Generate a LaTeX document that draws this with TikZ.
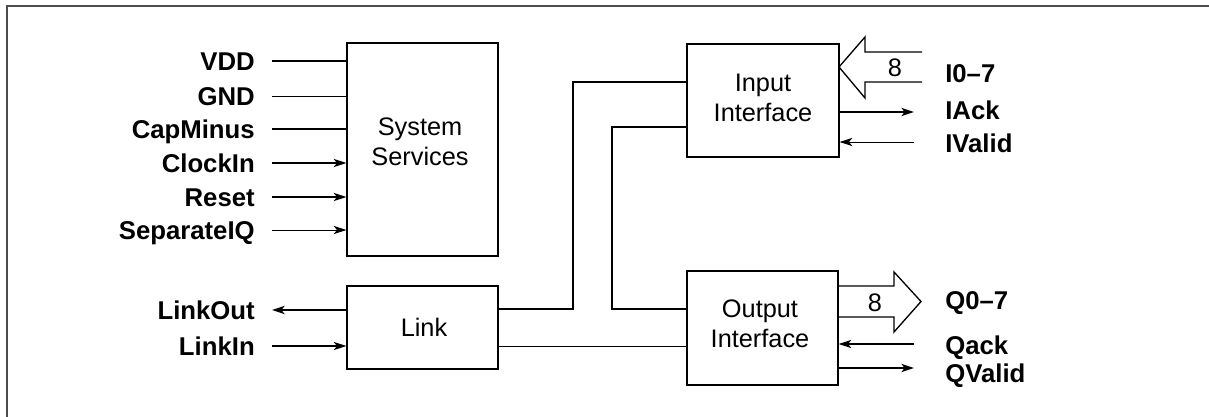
\documentclass[tikz,border=0pt]{standalone}
\usepackage{fontspec}
\setmainfont{Liberation Sans}
\usetikzlibrary{arrows.meta,fit,calc}
\begin{document}
\begin{tikzpicture}[x=0.75pt,y=-0.75pt,
  box/.style={draw,line width=1pt,inner sep=0pt},
  boxtext/.style={align=center,font=\fontsize{19}{22.5}\selectfont,inner sep=0pt},
  lab/.style={font=\fontsize{19.3}{22}\selectfont\bfseries,inner sep=0pt,text height=13.8pt,text depth=0pt},
  wire/.style={line width=1pt},
  thinwire/.style={line width=0.7pt},
  arr/.style={-{Stealth[length=9.5pt,width=6.2pt,inset=2.5pt]}},
  fat/.style={line width=1pt,line join=miter}]
\useasboundingbox (0,0) rectangle (1209,417);
\draw[black!70,line width=1.5pt] (7,417) -- (7,6) -- (1209,6);

% boxes
\node[box,fit={(347,43)(498,256)}] (ss) {};
\node[boxtext] (sst) at (420,142) {System\\Services};
\node[box,fit={(687,44)(839,157)}] (ii) {};
\node[boxtext] (iit) at (763,98) {Input\\Interface};
\node[box,fit={(347,286)(498,369)}] (lk) {};
\node[boxtext] (lkt) at (424,327) {Link};
\node[box,fit={(687,271)(838,385)}] (oi) {};
\node[boxtext] (oit) at (760,324) {Output\\Interface};

% left labels
\node[lab,anchor=east] (vdd) at (255,61) {VDD};
\node[lab,anchor=east] (gnd) at (255,96) {GND};
\node[lab,anchor=east] (cap) at (255,129) {CapMinus};
\node[lab,anchor=east] (clk) at (255,163) {ClockIn};
\node[lab,anchor=east] (rst) at (255,197) {Reset};
\node[lab,anchor=east] (sep) at (255,230) {SeparateIQ};
\node[lab,anchor=east] (lo) at (255,310) {LinkOut};
\node[lab,anchor=east] (li) at (255,346) {LinkIn};

\coordinate (vdds) at (272,61);
\coordinate (gnds) at (272,96);
\coordinate (caps) at (272,129);
\coordinate (clks) at (272,163);
\coordinate (rsts) at (272,197);
\coordinate (seps) at (272,230);
\coordinate (los) at (272,310);
\coordinate (lis) at (272,346);

\draw[line width=1.2pt] (vdds) -- (vdds -| ss.west);
\draw[thinwire] (gnds) -- (gnds -| ss.west);
\draw[wire] (caps) -- (caps -| ss.west);
\draw[line width=1.2pt,arr] (clks) -- (clks -| ss.west);
\draw[line width=1.2pt,arr] (rsts) -- (rsts -| ss.west);
\draw[thinwire,arr] (seps) -- (seps -| ss.west);
\draw[line width=1.2pt,arr] (los -| lk.west) -- (los);
\draw[wire,arr] (lis) -- (lis -| lk.west);

% right labels
\node[lab,anchor=west] (i07) at (945,73) {I0–7};
\node[lab,anchor=west] (iack) at (945,110) {IAck};
\node[lab,anchor=west] (ival) at (945,143) {IValid};
\node[lab,anchor=west] (q07) at (945,300) {Q0–7};
\node[lab,anchor=west] (qack) at (945,345) {Qack};
\node[lab,anchor=west] (qval) at (945,373) {QValid};

\coordinate (iacke) at (914,112);
\coordinate (ivals) at (914,142);
\coordinate (qacks) at (914,344);
\coordinate (qvale) at (914,368);
\draw[wire,arr] (iacke -| ii.east) -- (iacke);
\draw[thinwire,arr] (ivals) -- (ivals -| ii.east);
\draw[line width=0.9pt,arr] (qacks) -- (qacks -| oi.east);
\draw[line width=1.1pt,arr] (qvale -| oi.east) -- (qvale);

% bus arrows
\draw[fat] (922,52) -- (865,52) -- (865,37) -- (839,67) -- (865,98) -- (865,82) -- (922,82);
\node[boxtext] (i8) at (895,68) {8};
\draw[fat] (838,286) -- (894,286) -- (894,272) -- (921,301.5) -- (894,332) -- (894,317) -- (838,317);
\node[boxtext] (q8) at (875,303) {8};

% internal wiring
\coordinate (a1) at (573,82);
\coordinate (a2) at (573,309);
\coordinate (b1) at (612,127);
\coordinate (b2) at (612,309);
\coordinate (c1) at (600,346);
\draw[wire] (a1 -| ii.west) -- (a1) -- (a2) -- (a2 -| lk.east);
\draw[wire] (b1 -| ii.west) -- (b1) -- (b2) -- (b2 -| oi.west);
\draw[thinwire] (c1 -| lk.east) -- (c1 -| oi.west);
\end{tikzpicture}
\end{document}
